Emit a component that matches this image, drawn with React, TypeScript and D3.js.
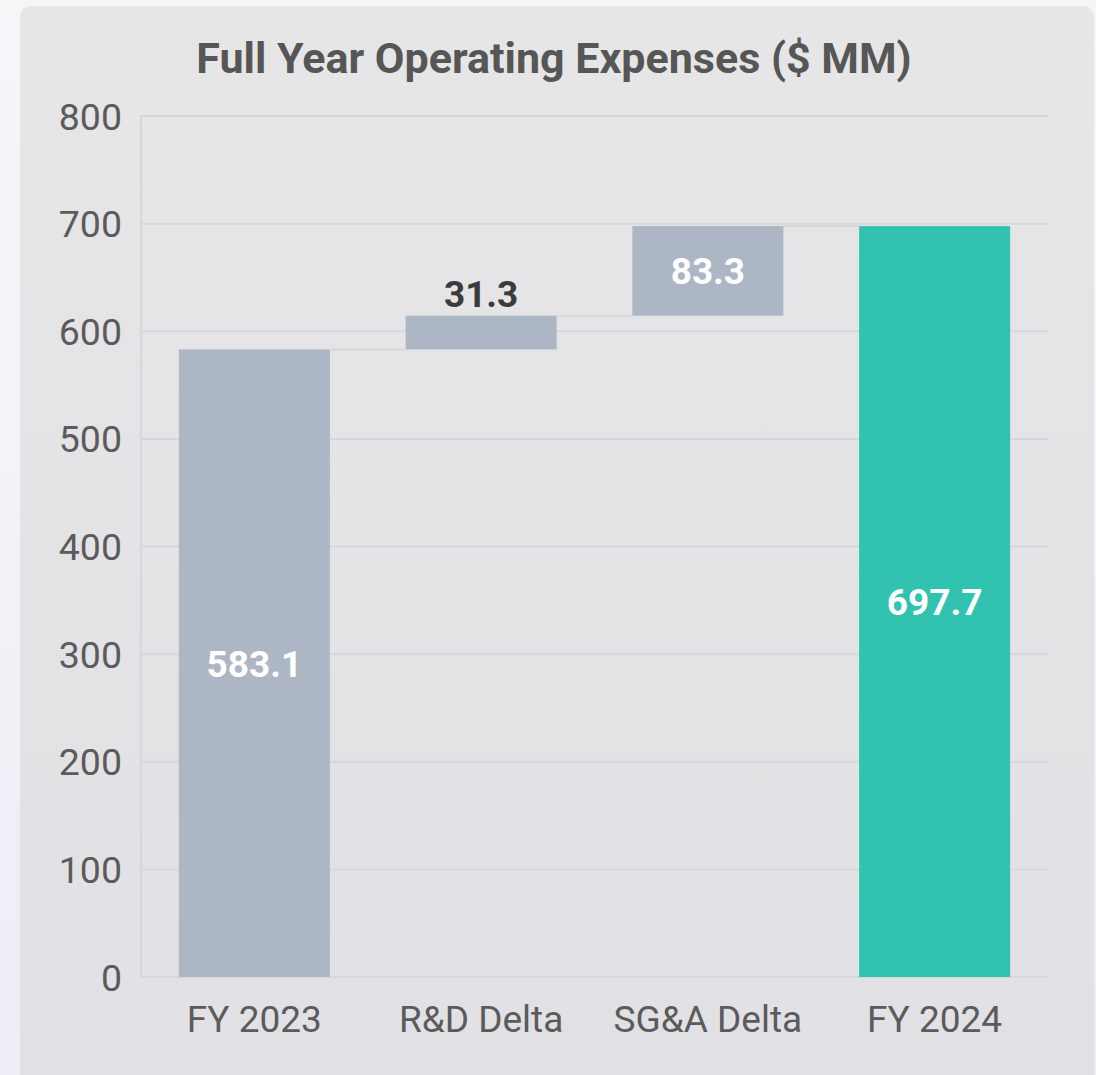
import React from 'react';
import * as d3 from 'd3';

const categories = ['FY 2023', 'R&D Delta', 'SG&A Delta', 'FY 2024'];
const amounts = [583.1, 31.3, 83.3, 697.7];
const kinds = ['total', 'delta', 'delta', 'total'];
const yTicks = [0, 100, 200, 300, 400, 500, 600, 700, 800];

const W = 1096;
const H = 1075;
const margin = { top: 116, right: 48, bottom: 98, left: 141 };

const App = () => {
  // running totals for the waterfall steps
  let running = 0;
  const bars = categories.map((c, i) => {
    let y0, y1;
    if (kinds[i] === 'total') {
      y0 = 0;
      y1 = amounts[i];
      running = amounts[i];
    } else {
      y0 = running;
      y1 = running + amounts[i];
      running = y1;
    }
    return { name: c, value: amounts[i], kind: kinds[i], y0, y1, i };
  });

  const x = d3
    .scaleBand()
    .domain(categories)
    .range([margin.left, W - margin.right])
    .paddingInner(0.334)
    .paddingOuter(0.167);

  const y = d3
    .scaleLinear()
    .domain([0, 800])
    .range([H - margin.bottom, margin.top]);

  const font = 'Roboto, "Noto Sans", sans-serif';
  const grid = '#d7d7db';

  return (
    <svg
      width={W}
      height={H}
      style={{ position: 'absolute', left: 0, top: 0, display: 'block' }}
      fontFamily={font}
    >
      <defs>
        <linearGradient id="page" x1="0" y1="0" x2="0" y2="1">
          <stop offset="0" stopColor="#f6f6f9" />
          <stop offset="1" stopColor="#ededf6" />
        </linearGradient>
        <linearGradient id="card" x1="0" y1="0" x2="0" y2="1">
          <stop offset="0" stopColor="#e6e6e7" />
          <stop offset="1" stopColor="#e1e1e5" />
        </linearGradient>
      </defs>
      <rect width={W} height={H} fill="url(#page)" />
      <rect x={20} y={6} width={1074} height={H + 20} rx={11} fill="url(#card)" />

      <text
        x={554}
        y={73}
        textAnchor="middle"
        fontSize={43}
        fontWeight="bold"
        fill="#565656"
      >
        Full Year Operating Expenses ($ MM)
      </text>

      {yTicks.map((t) => (
        <g key={t}>
          <line
            x1={margin.left}
            x2={W - margin.right}
            y1={y(t)}
            y2={y(t)}
            stroke={grid}
            strokeWidth={2}
          />
          <text
            x={122}
            y={y(t)}
            dy="0.36em"
            textAnchor="end"
            fontSize={37.5}
            fill="#5b5b5b"
          >
            {t}
          </text>
        </g>
      ))}
      <line
        x1={margin.left}
        x2={margin.left}
        y1={y(800)}
        y2={y(0)}
        stroke={grid}
        strokeWidth={2}
      />

      {bars.slice(0, -1).map((b) => {
        const next = categories[b.i + 1];
        return (
          <line
            key={'c' + b.i}
            x1={x(b.name)! + x.bandwidth()}
            x2={x(next)!}
            y1={y(b.y1)}
            y2={y(b.y1)}
            stroke={grid}
            strokeWidth={2}
          />
        );
      })}

      {bars.map((b) => (
        <rect
          key={b.name}
          x={x(b.name)}
          y={y(b.y1)}
          width={x.bandwidth()}
          height={y(b.y0) - y(b.y1)}
          fill={b.i === bars.length - 1 ? '#31c3b0' : '#adb6c4'}
        />
      ))}

      {bars.map((b) => {
        const h = y(b.y0) - y(b.y1);
        const inside = h > 50;
        const cy = inside ? (y(b.y0) + y(b.y1)) / 2 : y(b.y1) - 22;
        return (
          <text
            key={'l' + b.name}
            x={x(b.name)! + x.bandwidth() / 2}
            y={cy}
            dy="0.36em"
            textAnchor="middle"
            fontSize={37}
            fontWeight="bold"
            fill={inside ? '#ffffff' : '#3b3b3b'}
          >
            {b.value.toFixed(1)}
          </text>
        );
      })}

      {categories.map((c) => (
        <text
          key={'x' + c}
          x={x(c)! + x.bandwidth() / 2}
          y={1032}
          textAnchor="middle"
          fontSize={37}
          fill="#5b5b5b"
        >
          {c}
        </text>
      ))}
    </svg>
  );
};

export default App;
